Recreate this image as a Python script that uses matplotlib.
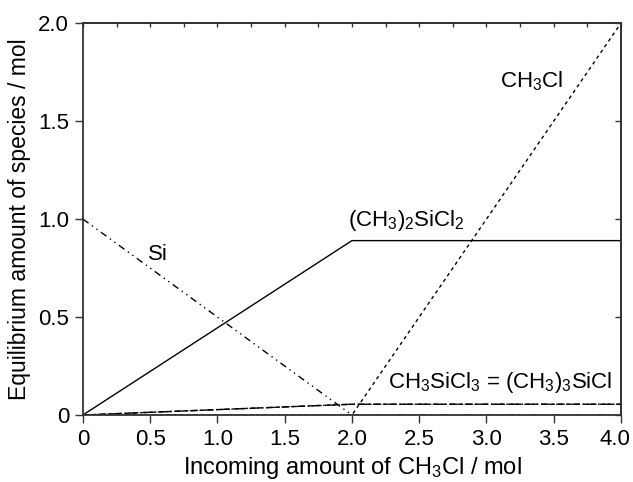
import numpy as np
import matplotlib.pyplot as plt
import matplotlib.transforms as mtransforms

plt.rcParams['font.family'] = ['Liberation Sans', 'DejaVu Sans']
plt.rcParams['mathtext.fontset'] = 'custom'
plt.rcParams['mathtext.rm'] = 'Liberation Sans'
plt.rcParams['mathtext.it'] = 'Liberation Sans'

# incoming CH3Cl (mol) at the break points of the equilibrium curves
x_in = [0.0, 2.0, 4.0]
si = [1.0, 0.0, 0.0]
ch3cl = [0.0, 0.0, 2.0]
dmdcs = [0.0, 0.89, 0.89]      # (CH3)2SiCl2
mtcs = [0.0, 0.055, 0.055]     # CH3SiCl3
tmcs = [0.0, 0.055, 0.055]     # (CH3)3SiCl

fig = plt.figure(figsize=(6.33, 4.82), dpi=100)
ax = fig.add_axes([0.131, 0.139, 0.85, 0.813])

ax.plot(x_in, dmdcs, color='black', lw=1.0, ls='-')
ax.plot(x_in, ch3cl, color='black', lw=1.0, ls=(0, (2.5, 2.5)))
ax.plot(x_in, si, color='black', lw=1.0, ls=(0, (5, 3, 1, 3, 1, 3)))
ax.plot(x_in, mtcs, color='black', lw=1.0, ls=(0, (4, 2)))
ax.plot(x_in, tmcs, color='black', lw=1.0, ls=(0, (6, 2, 1, 2)))

fs = 16
ax.text(1.97, 0.965, r'(CH$_3$)$_2$SiCl$_2$', fontsize=fs)
ax.text(0.48, 0.79, 'Si', fontsize=fs)
ax.text(3.1, 1.67, r'CH$_3$Cl', fontsize=fs)
ax.text(2.27, 0.14, r'CH$_3$SiCl$_3$ = (CH$_3$)$_3$SiCl', fontsize=fs)

ax.set_xlim(0, 4)
ax.set_ylim(0, 2)
ax.set_xticks([0, 0.5, 1.0, 1.5, 2.0, 2.5, 3.0, 3.5, 4.0])
ax.set_xticklabels(['0', '0.5', '1.0', '1.5', '2.0', '2.5', '3.0', '3.5', '4.0'])
ax.set_yticks([0, 0.5, 1.0, 1.5, 2.0])
ax.set_yticklabels(['0', '0.5', '1.0', '1.5', '2.0'])
ax.tick_params(axis='both', direction='out', length=6, width=1.0,
               labelsize=fs, color='#333333', pad=4)

# nudge the last x label so it stays inside the figure
last = ax.get_xticklabels()[-1]
last.set_transform(last.get_transform() +
                   mtransforms.ScaledTranslation(-6 / 100, 0, fig.dpi_scale_trans))

# inner ticks on the top and right spines
top = ax.secondary_xaxis('top')
top.set_xticks(np.arange(0, 4.01, 0.25))
top.tick_params(direction='in', length=3, width=1.0, labeltop=False, color='#333333')
right = ax.secondary_yaxis('right')
right.set_yticks(np.arange(0, 2.01, 0.5))
right.tick_params(direction='in', length=4, width=1.0, labelright=False, color='#333333')

for sp in list(ax.spines.values()) + [top.spines['top'], right.spines['right']]:
    sp.set_linewidth(1.3)
    sp.set_color('#333333')

ax.set_xlabel(r'Incoming amount of CH$_3$Cl / mol', fontsize=17, labelpad=4)
ax.set_ylabel('Equilibrium amount of species / mol', fontsize=16.5, labelpad=5)

fig.savefig('out.png', dpi=100)
